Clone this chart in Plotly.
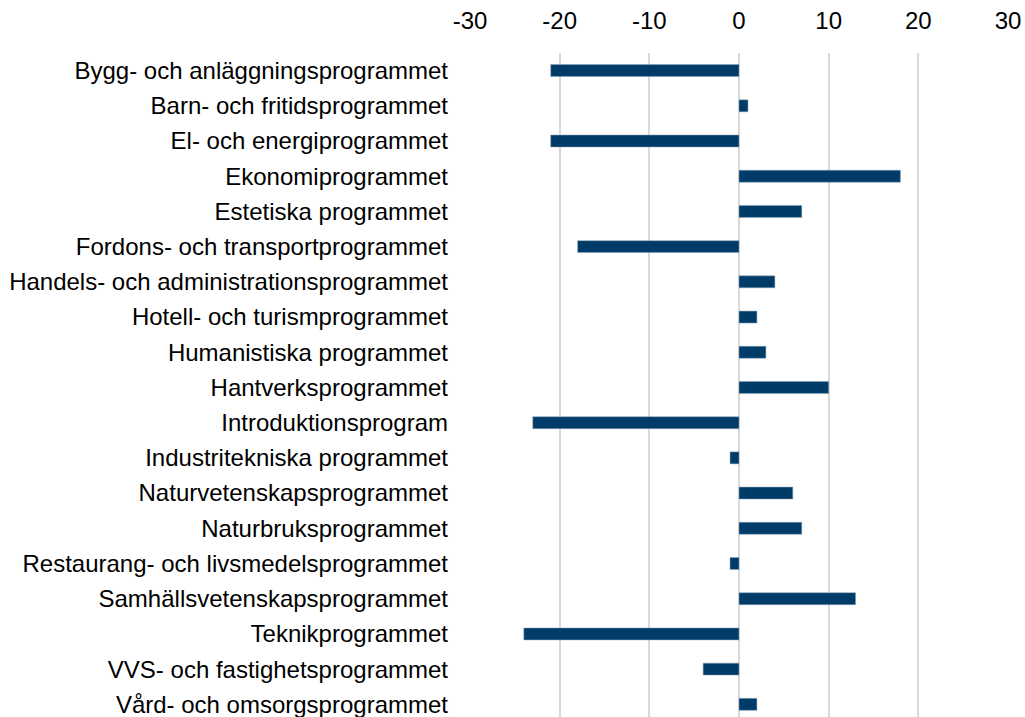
import plotly.graph_objects as go

categories = [
    "Bygg- och anläggningsprogrammet",
    "Barn- och fritidsprogrammet",
    "El- och energiprogrammet",
    "Ekonomiprogrammet",
    "Estetiska programmet",
    "Fordons- och transportprogrammet",
    "Handels- och administrationsprogrammet",
    "Hotell- och turismprogrammet",
    "Humanistiska programmet",
    "Hantverksprogrammet",
    "Introduktionsprogram",
    "Industritekniska programmet",
    "Naturvetenskapsprogrammet",
    "Naturbruksprogrammet",
    "Restaurang- och livsmedelsprogrammet",
    "Samhällsvetenskapsprogrammet",
    "Teknikprogrammet",
    "VVS- och fastighetsprogrammet",
    "Vård- och omsorgsprogrammet",
]
values = [-21, 1, -21, 18, 7, -18, 4, 2, 3, 10, -23, -1, 6, 7, -1, 13, -24, -4, 2]
tick_vals = [-30, -20, -10, 0, 10, 20, 30]
tick_text = ["-30", "-20", "-10", "0", "10", "20", "30"]

fig = go.Figure(go.Bar(
    x=values, y=categories, orientation="h",
    marker=dict(color="#013c68", line=dict(color="#8aa4bd", width=0.5)),
))

fig.update_layout(
    width=1025, height=717,
    margin=dict(l=470, r=17, t=53, b=0),
    paper_bgcolor="white", plot_bgcolor="white",
    bargap=0.66,
    showlegend=False,
    font=dict(family="Liberation Sans, Arial, sans-serif", size=24, color="#000000"),
    xaxis=dict(
        side="top", range=[-30, 30], tickvals=tick_vals, ticktext=tick_text,
        showgrid=True, gridcolor="#d9d9d9", gridwidth=2,
        zeroline=False, showline=False, ticks="",
        ticklabelstandoff=18,
        tickfont=dict(size=24),
    ),
    yaxis=dict(
        range=[18.36, -0.5], showgrid=False, zeroline=False, showline=False,
        ticks="", ticklabelstandoff=21, tickfont=dict(size=24),
    ),
)

fig.write_html(
    "out.html",
    config={"displayModeBar": False},
    post_script="document.body.style.margin='0';document.body.style.overflow='hidden';",
)
